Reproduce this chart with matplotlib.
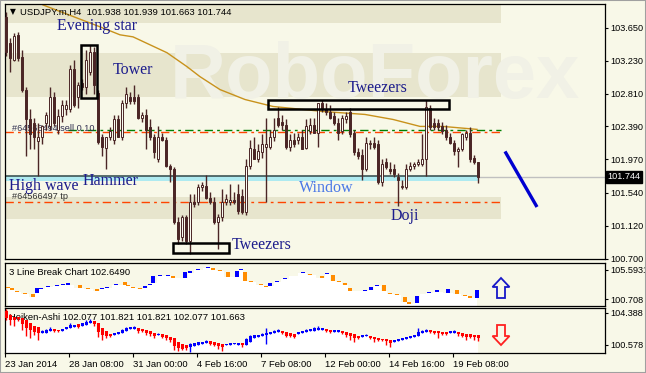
import matplotlib
matplotlib.use('Agg')
import matplotlib.pyplot as plt
import matplotlib.transforms as mtransforms
from matplotlib.patches import Rectangle, Polygon
import numpy as np

# ---- USDJPY.m H4 candles ----
opens = [103.79, 103.46, 103.24, 103.56, 103.28, 102.86, 102.48, 102.44, 102.20, 102.26,
         102.44, 102.39, 102.77, 102.35, 102.52, 102.61, 102.61, 103.12, 102.77, 102.95,
         102.90, 103.09, 103.34, 102.82, 102.26, 102.12, 102.26, 102.22, 102.48, 102.25,
         102.69, 102.76, 102.76, 102.76, 102.50, 102.54, 102.38, 102.25, 101.97, 102.26,
         102.22, 101.88, 101.84, 101.17, 100.97, 101.23, 100.93, 101.43, 101.42, 101.61,
         101.63, 101.48, 101.43, 101.17, 101.23, 101.42, 101.42, 101.45, 101.52, 101.50,
         101.29, 101.88, 102.10, 101.97, 102.06, 102.13, 102.13, 102.25, 102.50, 102.45,
         102.41, 102.13, 102.22, 102.22, 102.26, 102.12, 102.33, 102.41, 102.31, 102.69,
         102.61, 102.58, 102.52, 102.44, 102.33, 102.48, 102.57, 102.31, 102.06, 102.03,
         101.84, 102.16, 102.18, 102.16, 101.68, 101.93, 101.84, 101.84, 101.74, 101.61,
         101.61, 101.84, 101.88, 101.91, 101.91, 101.97, 102.63, 102.44, 102.44, 102.39,
         102.35, 102.25, 102.18, 102.07, 102.10, 102.26, 102.31, 101.99, 101.938]
highs = [103.85, 103.52, 103.59, 103.60, 103.37, 102.89, 102.61, 102.50, 102.44, 102.41,
         102.58, 102.90, 102.83, 102.61, 102.73, 102.73, 103.18, 103.24, 102.96, 102.99,
         103.37, 103.43, 103.40, 102.86, 102.29, 102.26, 102.38, 102.54, 102.54, 102.73,
         102.89, 102.83, 102.92, 102.80, 102.58, 102.61, 102.48, 102.29, 102.39, 102.31,
         102.26, 101.91, 101.87, 101.23, 101.26, 101.26, 101.52, 101.52, 101.65, 101.68,
         101.77, 101.55, 101.49, 101.27, 101.59, 101.52, 101.65, 101.55, 101.65, 101.59,
         101.97, 102.22, 102.25, 102.16, 102.29, 102.50, 102.35, 102.50, 102.64, 102.54,
         102.48, 102.29, 102.31, 102.31, 102.35, 102.48, 102.50, 102.50, 102.69, 102.73,
         102.69, 102.67, 102.58, 102.50, 102.54, 102.57, 102.63, 102.35, 102.12, 102.10,
         102.26, 102.22, 102.25, 102.22, 101.97, 101.99, 101.93, 101.91, 101.80, 101.71,
         101.91, 101.93, 101.94, 101.97, 102.29, 102.73, 102.67, 102.50, 102.48, 102.45,
         102.41, 102.31, 102.22, 102.13, 102.31, 102.35, 102.38, 102.03, 101.939]
lows = [103.29, 103.09, 103.22, 103.22, 102.83, 102.01, 102.10, 102.10, 101.75, 102.16,
        102.35, 102.35, 102.40, 102.29, 102.45, 102.54, 102.58, 102.64, 102.63, 102.86,
        102.80, 103.05, 102.80, 102.16, 102.01, 101.84, 102.22, 102.16, 102.25, 102.22,
        102.63, 102.68, 102.68, 102.48, 102.45, 102.10, 102.22, 101.99, 101.93, 102.20,
        101.87, 101.68, 101.14, 100.89, 100.93, 100.89, 100.76, 101.36, 101.38, 101.56,
        101.46, 101.40, 101.14, 100.82, 101.18, 101.38, 101.38, 101.40, 101.27, 101.27,
        101.26, 101.84, 101.97, 101.93, 101.99, 101.43, 102.10, 102.20, 102.38, 102.35,
        102.10, 102.07, 102.13, 102.16, 102.10, 102.10, 102.29, 102.31, 102.13, 102.58,
        102.54, 102.48, 102.41, 102.22, 102.29, 102.44, 102.26, 102.03, 101.97, 101.71,
        101.82, 102.10, 102.10, 101.65, 101.63, 101.84, 101.78, 101.74, 101.37, 101.59,
        101.59, 101.82, 101.84, 101.88, 101.88, 101.75, 102.35, 102.35, 102.35, 102.29,
        102.22, 102.16, 102.03, 101.87, 102.07, 102.22, 101.94, 101.91, 101.663]
closes = [103.34, 103.27, 103.54, 103.27, 102.86, 102.48, 102.29, 102.26, 102.26, 102.39,
          102.54, 102.77, 102.44, 102.52, 102.67, 102.67, 103.12, 102.67, 102.92, 102.90,
          103.24, 103.34, 102.92, 102.19, 102.13, 102.26, 102.33, 102.48, 102.25, 102.69,
          102.80, 102.71, 102.71, 102.50, 102.54, 102.35, 102.25, 102.06, 102.26, 102.22,
          101.88, 101.84, 101.17, 100.95, 101.23, 100.93, 101.43, 101.40, 101.61, 101.64,
          101.48, 101.42, 101.17, 101.23, 101.42, 101.46, 101.45, 101.42, 101.31, 101.29,
          101.88, 102.12, 101.97, 102.07, 102.16, 102.16, 102.25, 102.35, 102.41, 102.41,
          102.13, 102.22, 102.16, 102.26, 102.10, 102.39, 102.41, 102.31, 102.69, 102.61,
          102.57, 102.50, 102.44, 102.31, 102.50, 102.52, 102.29, 102.06, 102.01, 101.84,
          102.18, 102.18, 102.13, 101.68, 101.91, 101.87, 101.82, 101.78, 101.71, 101.61,
          101.84, 101.88, 101.91, 101.93, 101.97, 102.64, 102.38, 102.38, 102.38, 102.33,
          102.25, 102.18, 102.07, 102.10, 102.29, 102.31, 101.97, 101.94, 101.744]

# moving average (bar index, value)
ma_bar = [9.25, 23.5, 28.5, 31.75, 40.25, 45.25, 48.5, 53.5, 59.75, 66.75, 79.25, 89.75, 96.75, 103.5, 109.25, 117.75]
ma_val = [103.943, 103.663, 103.561, 103.535, 103.332, 103.154, 103.026, 102.861, 102.734, 102.645,
          102.581, 102.543, 102.479, 102.390, 102.390, 102.352]

sl_price = 102.317
sl_green = 102.338
tp_price = 101.423
last_price = 101.744
window_low = 101.69
trend_bar = [124.75, 132.75]
trend_val = [102.07, 101.36]

price_ticks = [103.650, 103.230, 102.810, 102.390, 101.970, 101.540, 101.120, 100.700]

# ---- 3 Line Break bricks ----
lb_x = [0.5, 1.5, 2.75, 4.75, 6.75, 7.75, 8.75, 10.5, 12.75, 14.25, 15.5, 18.5, 20.5, 22.75, 24.0,
        25.25, 27.5, 29.75, 30.5, 31.75, 33.5, 34.75, 36.0, 36.75, 38.5, 40.5, 41.75, 44.75, 46.0,
        48.0, 50.5, 51.75, 53.5, 55.5, 57.75, 58.75, 59.75, 61.25, 63.75, 65.0, 66.0, 67.75, 69.75,
        71.75, 74.25, 76.0, 79.0, 80.25, 81.75, 83.25, 84.75, 86.0, 89.75, 91.25, 92.75, 94.5, 96.0,
        97.75, 99.75, 100.75, 102.75, 104.0, 105.75, 107.75, 110.5, 112.75, 114.75, 116.0, 117.75]
lb_hi = [102.81, 102.56, 102.06, 101.80, 101.55, 102.56, 102.64, 102.90, 103.07, 103.23, 103.32,
         103.07, 102.56, 102.39, 102.56, 102.73, 103.23, 103.57, 103.07, 102.73, 102.56, 102.90,
         103.23, 104.58, 104.83, 104.83, 104.58, 105.26, 105.34, 105.68, 106.10, 105.93, 105.59,
         105.26, 105.34, 105.68, 105.26, 103.66, 103.23, 102.98, 103.40, 103.66, 104.17, 104.66,
         105.26, 105.00, 104.58, 105.09, 104.75, 103.74, 103.32, 102.56, 102.22, 102.73, 103.15,
         103.07, 101.80, 101.47, 101.04, 100.12, 101.21, 101.63, 101.89, 102.14, 102.39, 102.22,
         101.38, 101.13, 102.22]
lb_lo = [102.64, 102.22, 101.97, 101.63, 101.04, 101.72, 102.47, 102.73, 102.90, 103.07, 103.15,
         102.64, 102.39, 102.06, 102.39, 102.56, 103.07, 103.07, 102.90, 102.56, 102.39, 102.56,
         103.07, 103.40, 104.66, 104.66, 104.25, 104.25, 105.17, 105.51, 105.93, 105.59, 105.42,
         104.41, 104.41, 105.51, 103.74, 103.49, 103.07, 102.81, 102.90, 103.49, 104.00, 104.50,
         105.09, 104.83, 104.25, 104.92, 103.74, 103.57, 103.15, 102.06, 102.06, 102.22, 102.98,
         102.06, 101.63, 101.30, 100.20, 99.95, 100.03, 101.47, 101.72, 101.97, 101.72, 101.55,
         101.21, 100.96, 100.88]
lb_up = [0, 0, 0, 0, 0, 1, 1, 1, 1, 1, 1, 0, 0, 0, 1, 1, 1, 0, 0, 0, 0, 1, 1, 1, 1, 1, 0, 1, 1,
         1, 1, 0, 0, 0, 1, 1, 0, 0, 0, 0, 1, 1, 1, 1, 1, 0, 0, 1, 0, 0, 0, 0, 1, 1, 1, 0, 0, 0, 0,
         0, 1, 1, 1, 1, 1, 0, 0, 0, 1]

# ---- Heiken-Ashi ----
ha_open = [104.63, 104.15, 103.91, 103.91, 103.79, 103.55, 103.20, 102.84, 102.72, 102.01,
           102.01, 102.24, 102.48, 102.36, 102.24, 102.48, 102.60, 102.72, 103.08, 102.84,
           102.96, 103.20, 103.43, 103.20, 102.60, 102.24, 101.89, 101.77, 101.89, 102.01,
           102.24, 102.48, 102.48, 102.60, 102.48, 102.36, 102.24, 102.01, 101.77, 101.89,
           101.77, 101.53, 101.41, 100.94, 100.70, 100.58, 100.34, 100.46, 100.58, 100.70,
           100.82, 101.05, 100.94, 100.82, 100.70, 100.58, 100.58, 100.70, 100.58, 100.82,
           100.58, 100.94, 101.41, 101.53, 101.65, 101.77, 101.89, 102.01, 102.13, 102.24,
           102.13, 102.01, 101.89, 101.89, 102.01, 102.13, 102.24, 102.24, 102.36, 102.36,
           102.48, 102.36, 102.13, 102.13, 102.24, 102.13, 102.01, 101.89, 101.65, 101.53,
           101.65, 101.65, 101.53, 101.41, 101.29, 101.29, 101.17, 100.94, 101.05, 101.17,
           101.29, 101.41, 101.53, 101.65, 102.01, 102.13, 102.36, 102.24, 102.24, 102.13,
           102.13, 102.01, 102.01, 102.13, 102.01, 101.89, 101.89, 101.77, 101.77]
ha_high = [104.86, 104.27, 103.91, 103.91, 103.79, 103.55, 103.20, 102.84, 102.72, 102.36,
           102.48, 102.72, 102.48, 102.36, 102.48, 102.72, 103.20, 102.96, 103.08, 103.20,
           103.55, 103.67, 103.43, 103.20, 102.60, 102.24, 101.89, 102.01, 102.13, 102.48,
           102.72, 102.72, 102.84, 102.60, 102.48, 102.36, 102.24, 102.01, 102.01, 101.89,
           101.77, 101.53, 101.41, 100.94, 100.70, 100.58, 100.82, 100.82, 100.94, 100.94,
           101.17, 101.05, 100.94, 100.82, 100.70, 100.70, 100.82, 100.82, 100.82, 100.82,
           101.41, 101.77, 101.77, 101.77, 102.01, 102.60, 102.13, 102.36, 102.48, 102.24,
           102.13, 102.01, 101.89, 102.13, 102.24, 102.48, 102.48, 102.72, 102.84, 102.60,
           102.48, 102.36, 102.36, 102.36, 102.24, 102.13, 102.01, 101.89, 101.65, 101.77,
           101.89, 101.65, 101.53, 101.41, 101.29, 101.29, 101.17, 101.17, 101.29, 101.41,
           101.53, 101.65, 101.77, 102.60, 102.36, 102.48, 102.36, 102.24, 102.24, 102.13,
           102.13, 102.24, 102.36, 102.13, 102.01, 101.89, 101.89, 101.77, 101.77]
ha_low = [103.55, 102.96, 102.84, 103.43, 102.36, 101.65, 101.41, 101.77, 101.17, 102.01,
          102.01, 102.24, 102.13, 102.13, 102.24, 102.48, 102.60, 102.72, 102.60, 102.84,
          102.96, 103.20, 102.84, 101.53, 101.17, 101.41, 101.53, 101.77, 101.89, 102.01,
          102.24, 102.48, 102.48, 102.01, 102.13, 101.77, 101.65, 101.41, 101.77, 101.41,
          101.17, 100.94, 99.98, 99.86, 99.98, 99.98, 99.74, 100.46, 100.58, 100.70,
          100.82, 100.58, 100.46, 100.10, 99.86, 100.58, 100.58, 100.70, 100.58, 100.34,
          100.58, 100.94, 101.41, 101.53, 101.65, 100.70, 101.89, 102.01, 102.13, 101.89,
          101.53, 101.53, 101.41, 101.89, 102.01, 102.13, 102.24, 102.24, 102.36, 102.36,
          102.13, 102.01, 102.13, 102.13, 101.89, 101.53, 101.17, 100.94, 101.29, 101.53,
          101.65, 101.29, 100.94, 101.05, 101.05, 100.58, 100.34, 100.94, 101.05, 101.17,
          101.29, 101.41, 101.53, 101.65, 102.01, 102.13, 102.01, 101.89, 101.41, 101.77,
          101.77, 102.01, 102.01, 101.65, 101.53, 101.17, 101.41, 101.17, 101.05]
ha_close = [103.79, 103.55, 103.55, 103.67, 103.08, 102.60, 102.36, 102.13, 102.01, 102.24,
            102.36, 102.48, 102.24, 102.24, 102.48, 102.72, 102.96, 102.96, 102.72, 103.20,
            103.32, 103.43, 103.08, 102.13, 101.77, 101.65, 101.65, 102.01, 102.13, 102.36,
            102.60, 102.72, 102.72, 102.24, 102.24, 102.01, 101.89, 101.65, 101.89, 101.53,
            101.41, 101.17, 100.46, 100.22, 100.10, 100.22, 100.70, 100.82, 100.94, 100.94,
            101.05, 100.70, 100.58, 100.46, 100.34, 100.70, 100.82, 100.82, 100.82, 100.58,
            101.29, 101.65, 101.77, 101.77, 101.89, 102.01, 102.13, 102.24, 102.36, 102.01,
            101.65, 101.65, 101.53, 102.13, 102.24, 102.36, 102.48, 102.60, 102.60, 102.60,
            102.24, 102.13, 102.36, 102.36, 102.01, 101.77, 101.65, 101.41, 101.41, 101.77,
            101.77, 101.41, 101.29, 101.17, 101.17, 101.05, 100.82, 101.17, 101.29, 101.41,
            101.53, 101.65, 101.77, 102.13, 102.24, 102.36, 102.13, 102.01, 102.01, 101.89,
            101.89, 102.24, 102.24, 101.89, 101.65, 101.53, 101.53, 101.53, 101.41]

time_ticks = [-0.25, 15.75, 31.75, 47.75, 63.75, 79.75, 95.75, 111.75]
time_labels = ['23 Jan 2014', '28 Jan 08:00', '31 Jan 00:00', '4 Feb 16:00',
               '7 Feb 08:00', '12 Feb 00:00', '14 Feb 16:00', '19 Feb 08:00']

# ---- figure layout ----
W, H = 646, 373
BG = '#f8f8e8'
BAND = '#e7e5cd'
CANDLE = '#4b2626'
NAVY = '#1c1c8c'
SANS = ['Liberation Sans', 'DejaVu Sans']
SERIF = ['Liberation Serif', 'DejaVu Serif']

fig = plt.figure(figsize=(W / 100, H / 100), dpi=100)
fig.patch.set_facecolor(BG)


def frac(l, t, r, b):
    return [l / W, 1 - b / H, (r - l) / W, (b - t) / H]


ax1 = fig.add_axes(frac(5, 4, 605, 259))
ax2 = fig.add_axes(frac(5, 263, 605, 306))
ax3 = fig.add_axes(frac(5, 308, 605, 353))

for ax in (ax1, ax2, ax3):
    ax.set_facecolor(BG)
    ax.set_xlim(-0.25, 149.75)
    ax.yaxis.tick_right()
    ax.tick_params(axis='y', direction='out', length=2.5, width=0.8, pad=1.5,
                   labelsize=6.6, colors='black')
    for s in ax.spines.values():
        s.set_color('black')
        s.set_linewidth(0.9)

x = np.arange(len(closes))
o = np.array(opens); h = np.array(highs); l = np.array(lows); c = np.array(closes)

# ---- main chart ----
ax1.set_ylim(100.695, 103.955)
ax1.set_xticks([])
ax1.set_yticks(price_ticks)
ax1.set_yticklabels(['%.3f' % p for p in price_ticks], family=SANS)

band_right = (501 - 5) / 600
for lo_b, hi_b in [(103.714, 103.955), (102.772, 103.332), (101.207, 101.487)]:
    ax1.axhspan(lo_b, hi_b, xmin=0, xmax=band_right, color=BAND, lw=0, zorder=0.2)

# faint watermark
ax1.text(0.617, 0.63, 'RoboForex', transform=ax1.transAxes, ha='center', va='baseline',
         fontsize=56, fontweight='bold', family=SANS, color='#f1f1e6', zorder=0.5)

# sl / tp levels
ax1.hlines(sl_green, 15.5, 123.75, color='#008000', lw=1, linestyles=[(0, (6, 3, 2, 3))], zorder=1)
ax1.hlines(sl_price, -0.25, 123.75, color='#ff4500', lw=1, linestyles=[(0, (6, 3, 2, 3))], zorder=1)
ax1.hlines(tp_price, -0.25, 123.75, color='#ff4500', lw=1, linestyles=[(0, (6, 3, 2, 3))], zorder=1)
ax1.text(1.5, sl_price + 0.045, '#64566494 sell 0.10', fontsize=6.6, family=SANS,
         color='#303050', va='center', zorder=1)
ax1.text(1.5, tp_price + 0.07, '#64566497 tp', fontsize=6.6, family=SANS,
         color='#303030', va='center', zorder=1)

# window zone and last price
ax1.axhspan(window_low, last_price + 0.008, xmin=0, xmax=(478 - 5) / 600,
            color='#aeeaf0', lw=0, zorder=1.5)
ax1.hlines(last_price + 0.008, -0.25, 118, color='#3e5555', lw=1.2, zorder=1.6)
ax1.hlines(last_price, 118, 149.75, color='#c0c0c0', lw=1, zorder=1.6)

ax1.plot(ma_bar, ma_val, color='#c8921c', lw=1, zorder=2)

# candles
up = c >= o
ax1.vlines(x, l, h, color=CANDLE, lw=1, zorder=3)
ax1.bar(x, np.maximum(np.abs(c - o), 0.012), bottom=np.minimum(o, c), width=0.62,
        color=np.where(up, '#fbfbf2', CANDLE), edgecolor=CANDLE, linewidth=0.7, zorder=4)

ax1.plot(trend_bar, trend_val, color='#0000d0', lw=2.4, solid_capstyle='butt', zorder=5)

# pattern boxes
for x0, x1, y0, y1 in [(18.75, 22.75, 102.759, 103.434),
                       (65.5, 110.75, 102.619, 102.734),
                       (41.75, 55.75, 100.774, 100.901)]:
    ax1.add_patch(Rectangle((x0, y0), x1 - x0, y1 - y0, fill=False, ec='black', lw=1.8, zorder=6))

for txt, bx, by, col in [('Evening star', 12.75, 103.675, NAVY), ('Tower', 26.75, 103.115, NAVY),
                         ('Tweezers', 85.5, 102.886, NAVY), ('High wave', 0.75, 101.626, NAVY),
                         ('Hammer', 19.25, 101.69, NAVY), ('Window', 73.25, 101.60, '#4a78e6'),
                         ('Doji', 96.25, 101.245, NAVY), ('Tweezers', 56.5, 100.875, NAVY)]:
    ax1.text(bx, by, txt, fontsize=11.5, family=SERIF, color=col, va='center', ha='left', zorder=7)

ax1.text(0.008, 0.969, '\u25bc', transform=ax1.transAxes, fontsize=5.5, family=['DejaVu Sans'],
         va='center', color='black', zorder=7)
ax1.text(0.025, 0.969, 'USDJPY.m,H4  101.938 101.939 101.663 101.744', transform=ax1.transAxes,
         fontsize=6.8, family=SANS, va='center', color='black', zorder=7)

tr = mtransforms.blended_transform_factory(ax1.transAxes, ax1.transData)
ax1.text(1.004, last_price, '101.744', transform=tr, fontsize=6.6, family=SANS, color='white',
         va='center', ha='left', zorder=8,
         bbox=dict(boxstyle='square,pad=0.15', fc='black', ec='black'))

# ---- 3 Line Break panel ----
ax2.set_ylim(99.53, 106.77)
ax2.set_xticks([])
ax2.set_yticks([105.5931, 100.708])
ax2.set_yticklabels(['105.5931', '100.708'], family=SANS)
ax2.fill_between(lb_x, lb_lo, 99.0, step='mid', color='white', lw=0, zorder=1)
lb_h = np.array(lb_hi) - np.array(lb_lo)
ax2.bar(lb_x, lb_h, bottom=lb_lo, width=0.95,
        color=['#0000ff' if u else '#ff8c00' for u in lb_up], lw=0, zorder=3)
ax2.text(0.006, 0.79, '3 Line Break Chart 102.6490', transform=ax2.transAxes,
         fontsize=6.8, family=SANS, va='center', color='black', zorder=2)

# ---- Heiken-Ashi panel ----
ao = np.array(ha_open); ac = np.array(ha_close)
ax3.set_ylim(99.62, 104.98)
ax3.set_yticks([104.388, 100.578])
ax3.set_yticklabels(['104.388', '100.578'], family=SANS)
ax3.fill_between(x, np.minimum(ao, ac), 99.0, step='mid', color='white', lw=0, zorder=1)
ha_col = np.where(ac >= ao, '#0000ff', '#ff0000')
ax3.vlines(x, ha_low, ha_high, color=ha_col, lw=1, zorder=3)
ax3.bar(x, np.abs(ac - ao), bottom=np.minimum(ao, ac), width=0.75, color=ha_col, lw=0, zorder=4)
ax3.text(0.006, 0.80, 'Heiken-Ashi 102.077 101.821 101.821 102.077 101.663', transform=ax3.transAxes,
         fontsize=6.8, family=SANS, va='center', color='black', zorder=2)
ax3.set_xticks(time_ticks)
ax3.set_xticklabels(time_labels, ha='left', family=SANS)
ax3.tick_params(axis='x', direction='out', length=3, width=0.8, pad=2, labelsize=6.8)

# indicator arrows
def to_fig(pts):
    return [(px / W, 1 - py / H) for px, py in pts]

up_arrow = [(501, 278), (509.5, 287), (505, 287), (505, 298), (497, 298), (497, 287), (492.5, 287)]
dn_arrow = [(501, 345), (509.5, 336), (505, 336), (505, 325), (497, 325), (497, 336), (492.5, 336)]
fig.add_artist(Polygon(to_fig(up_arrow), closed=True, fill=False, ec='#1818c8', lw=1.3,
                       transform=fig.transFigure))
fig.add_artist(Polygon(to_fig(dn_arrow), closed=True, fill=False, ec='#ff2020', lw=1.3,
                       transform=fig.transFigure))

# window frame
fig.add_artist(Rectangle((0, 0), 1, 1, transform=fig.transFigure, fill=False,
                         ec='#a0a0a0', lw=1.5))

fig.savefig('out.png', dpi=100, facecolor=fig.get_facecolor())
